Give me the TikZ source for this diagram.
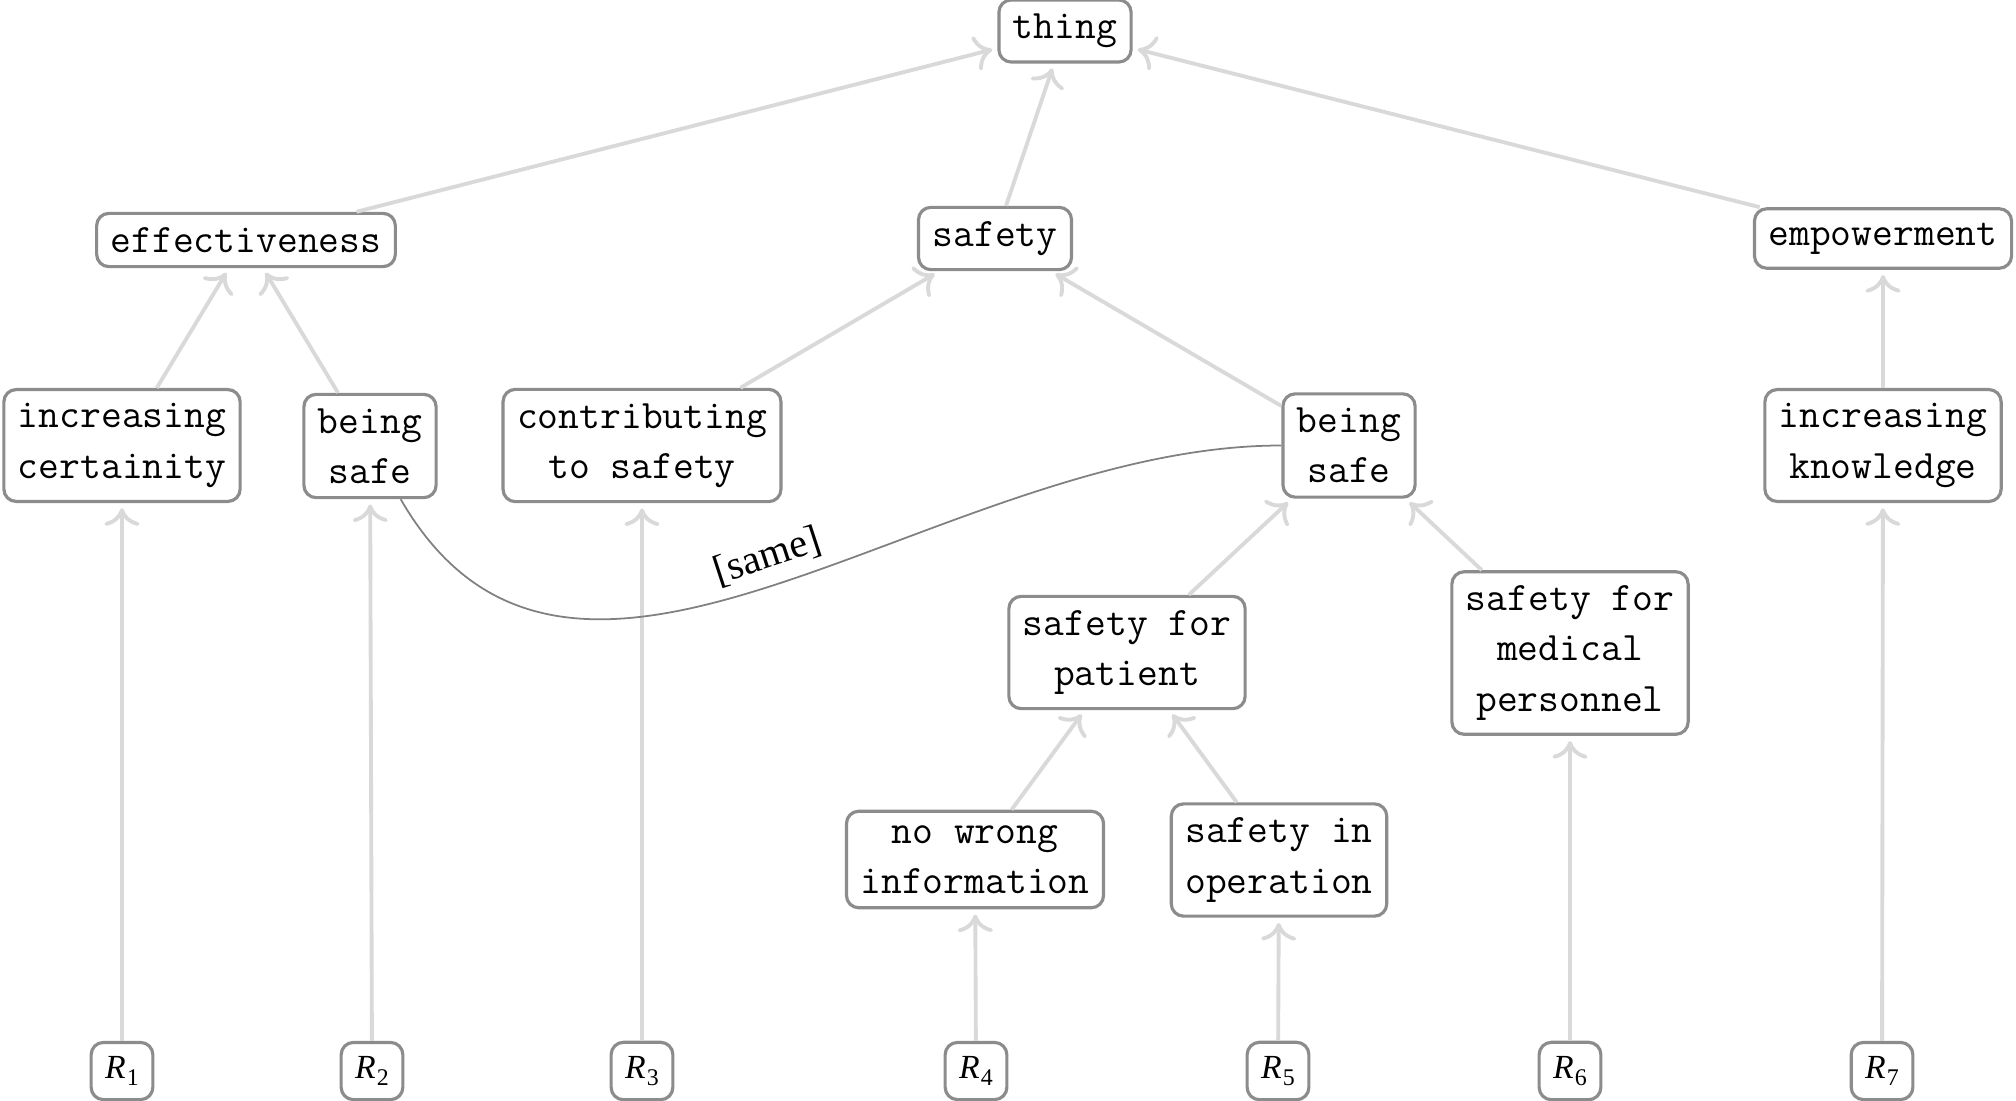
\documentclass[tikz,border=0pt]{standalone}
\usepackage{amsmath, tikz, xcolor}
\usepackage{fontspec}
\setmainfont{Liberation Serif}
\usetikzlibrary{arrows.meta}

\newcommand{\reqlabel}[1]{\textit{R}\kern0.3pt\raisebox{-0.45ex}{\fontsize{6.8}{8}\selectfont #1}}

\begin{document}
\begin{tikzpicture}[
    box/.style = {draw=black!45, line width=0.9pt, rounded corners=3.5pt, fill=white,
                  inner sep=4pt, align=center,
                  font=\fontsize{11.5}{14.3}\selectfont\ttfamily},
    req/.style = {box, font=\fontsize{9.6}{11}\selectfont, minimum height=15.2pt},
    edge/.style = {draw=black!15, line width=1.1pt, shorten >=1.5pt,
                   -{Computer Modern Rightarrow[length=5pt, width=10pt]}},
    link/.style = {draw=black!50, line width=0.5pt}
  ]
    \useasboundingbox (0,0) rectangle (20.16,-11.00);
    % top levels
    \node (thing) at (10.65,-0.31) [box] {thing};
    \node (eff) at (2.46,-2.40) [box] {effectiveness};
    \node (saf) at (9.95,-2.385) [box] {safety};
    \node (emp) at (18.83,-2.385) [box] {empowerment};
    % middle
    \node (cert) at (1.22,-4.455) [box] {increasing\\certainity};
    \node (safeL) at (3.70,-4.46) [box] {being\\safe};
    \node (contr) at (6.42,-4.455) [box] {contributing\\to safety};
    \node (safeR) at (13.49,-4.455) [box] {being\\safe};
    \node (know) at (18.83,-4.455) [box] {increasing\\knowledge};
    \node (pat) at (11.27,-6.525) [box] {safety for\\patient};
    \node (med) at (15.70,-6.53) [box] {safety for\\medical\\personnel};
    \node (info) at (9.75,-8.595) [box] {no wrong\\information};
    \node (oper) at (12.79,-8.60) [box] {safety in\\operation};
    % requirements
    \foreach \x [count=\i] in {1.22,3.72,6.42,9.76,12.78,15.70,18.82}
        \node (r\i) at (\x,-10.71) [req] {\reqlabel{\i}};
    % arrows
    \foreach \a/\b in {r1/cert, r2/safeL, r3/contr, r4/info, r5/oper, r6/med, r7/know,
                       cert/eff, safeL/eff, contr/saf, safeR/saf, info/pat, oper/pat,
                       pat/safeR, med/safeR, know/emp, eff/thing, saf/thing, emp/thing}
        \draw [edge] (\a) -- (\b);
    \draw [link] (safeL) to[out=-60, in=180]
        node [sloped, above, font=\fontsize{11.5}{14}\selectfont] {[same]} (safeR);
\end{tikzpicture}
\end{document}
